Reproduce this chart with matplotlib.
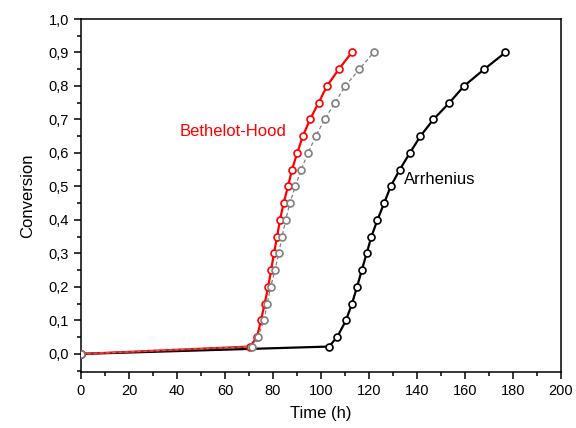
import matplotlib
matplotlib.use('Agg')
import matplotlib.pyplot as plt
from matplotlib.ticker import MultipleLocator, FuncFormatter

plt.rcParams['font.family'] = ['Liberation Sans', 'DejaVu Sans']

# Arrhenius model (black)
arr_t = [0, 103.3, 106.7, 110.4, 112.9, 115.0, 117.0, 119.0, 121.0, 123.5, 126.3,
         129.0, 132.8, 137.0, 141.4, 146.8, 153.5, 159.6, 168.0, 176.8]
arr_x = [0, 0.022, 0.05, 0.10, 0.15, 0.20, 0.25, 0.30, 0.35, 0.40, 0.45,
         0.50, 0.55, 0.60, 0.65, 0.70, 0.75, 0.80, 0.85, 0.90]

# Bethelot-Hood model (red)
bh_t = [0, 70.4, 73.3, 75.0, 76.5, 78.0, 79.2, 80.4, 81.7, 82.9, 84.4,
        86.25, 87.9, 90.1, 92.4, 95.4, 99.0, 102.5, 107.4, 112.8]
bh_x = [0, 0.022, 0.05, 0.10, 0.15, 0.20, 0.25, 0.30, 0.35, 0.40, 0.45,
        0.50, 0.55, 0.60, 0.65, 0.70, 0.75, 0.80, 0.85, 0.90]

# third series (grey, dashed)
gr_t = [0, 71.1, 73.6, 76.25, 77.6, 79.0, 80.8, 82.4, 83.75, 85.3, 87.0,
        89.3, 91.7, 94.6, 97.8, 101.5, 105.8, 110.1, 116.0, 121.9]
gr_x = [0, 0.022, 0.05, 0.10, 0.15, 0.20, 0.25, 0.30, 0.35, 0.40, 0.45,
        0.50, 0.55, 0.60, 0.65, 0.70, 0.75, 0.80, 0.85, 0.90]

fig = plt.figure(figsize=(5.76, 4.28), dpi=100)
ax = fig.add_axes([0.1406, 0.1308, 0.8334, 0.8248])

mk = dict(marker='o', markersize=5, markerfacecolor='white', markeredgewidth=1.2)
ax.plot(arr_t, arr_x, color='black', lw=1.6, markeredgecolor='black', zorder=3, **mk)
ax.plot(bh_t, bh_x, color='red', lw=1.6, markeredgecolor='red', zorder=4, **mk)
ax.plot(gr_t, gr_x, color='grey', lw=0.9, ls=(0, (3, 2)), markeredgecolor='grey', zorder=5, **mk)

ax.text(41.2, 0.664, 'Bethelot-Hood', color='red', fontsize=12, va='center')
ax.text(134.7, 0.521, 'Arrhenius', color='black', fontsize=12, va='center')

ax.set_xlim(0, 200)
ax.set_ylim(-0.054, 1.0)
ax.xaxis.set_major_locator(MultipleLocator(20))
ax.xaxis.set_minor_locator(MultipleLocator(10))
ax.yaxis.set_major_locator(MultipleLocator(0.1))
ax.yaxis.set_minor_locator(MultipleLocator(0.05))
ax.yaxis.set_major_formatter(FuncFormatter(lambda v, p: ('%.1f' % v).replace('.', ',')))
ax.tick_params(which='major', direction='out', length=5, width=1.1, labelsize=10.5)
ax.tick_params(which='minor', direction='out', length=3, width=1.1)
for s in ax.spines.values():
    s.set_linewidth(1.1)

ax.set_xlabel('Time (h)', fontsize=12, labelpad=6)
ax.set_ylabel('Conversion', fontsize=12, labelpad=10)

fig.savefig('out.png', dpi=100)
